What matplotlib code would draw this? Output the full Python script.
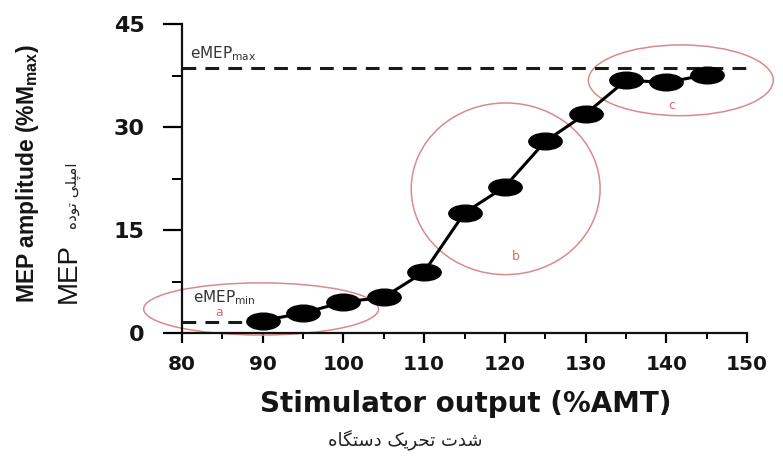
import matplotlib
matplotlib.use("Agg")
import matplotlib.pyplot as plt
from matplotlib.patches import Ellipse
from matplotlib.path import Path
from matplotlib.ticker import MultipleLocator

# data
stim = [90, 95, 100, 105, 110, 115, 120, 125, 130, 135, 140, 145]
mep = [1.8, 2.9, 4.5, 5.2, 8.9, 17.5, 21.3, 27.9, 31.9, 36.8, 36.5, 37.6]
emep_max = 38.6
emep_min = 1.6
x_ticks = [80, 90, 100, 110, 120, 130, 140, 150]
y_ticks = [0, 15, 30, 45]

# the three circled regions
region_names = ["a", "b", "c"]
region_x = [89.8, 120.1, 141.8]
region_y = [3.5, 21.0, 36.8]
region_w = [29.1, 23.4, 22.9]
region_h = [7.6, 25.0, 10.3]

# Persian text, pre-shaped (presentation forms, visual order)
fa_ylabel = "\uFEE9\uFEA9\uFEEE\uFE97 \uFBFD\uFEE0\uFB59\uFEE3\uFE8D"
fa_xlabel = ("\uFEE9\uFE8E\uFB95\uFE98\uFEB3\uFEA9 "
             "\uFB8F\uFBFE\uFEAE\uFEA4\uFE97 \uFE95\uFEAA\uFEB7")

plt.rcParams["mathtext.default"] = "regular"
plt.rcParams["font.family"] = ["DejaVu Sans"]

W, H = 783, 466
fig = plt.figure(figsize=(W / 100, H / 100), dpi=100)
ax = fig.add_axes([182 / W, 1 - 333 / H, (747 - 182) / W, (333 - 24) / H])

# elliptical marker (the reference markers are wider than tall)
circ = Path.unit_circle()
ell_marker = Path(circ.vertices * [1, 0.5], circ.codes)

ax.plot(stim, mep, color="black", lw=2.2, marker=ell_marker, ms=24,
        mfc="black", mec="black", clip_on=False, zorder=4)

ax.plot([80, 150.8], [emep_max, emep_max], color="#1a1a1a", lw=2.2,
        ls=(0, (4.5, 3)), clip_on=False, zorder=3)
ax.plot([80, 88], [emep_min, emep_min], color="#1a1a1a", lw=2.2,
        ls=(0, (4.5, 3)), clip_on=False, zorder=3)

ax.text(81, 40.0, r"eMEP$_{max}$", fontsize=11, color="#333333")
ax.text(81.4, 4.5, r"eMEP$_{min}$", fontsize=11, color="#333333")

label_pos = [(84.6, 3.0), (121.3, 11.1), (140.7, 33.2)]
for name, cx, cy, w, h, (lx, ly) in zip(region_names, region_x, region_y,
                                        region_w, region_h, label_pos):
    ax.add_patch(Ellipse((cx, cy), w, h, fill=False, ec="#d98a8b", lw=1.1,
                         clip_on=False, zorder=2))
    ax.text(lx, ly, name, color="#d9666a", fontsize=9, ha="center",
            va="center")

ax.set_xlim(80, 150)
ax.set_ylim(0, 45)
ax.set_xticks(x_ticks)
ax.set_yticks(y_ticks)
ax.xaxis.set_minor_locator(MultipleLocator(5))
ax.yaxis.set_minor_locator(MultipleLocator(7.5))

for side in ["top", "right"]:
    ax.spines[side].set_visible(False)
for side in ["left", "bottom"]:
    ax.spines[side].set_linewidth(1.6)
    ax.spines[side].set_color("#111111")

ax.tick_params(axis="x", which="major", length=7, width=1.6, pad=9,
               labelsize=14.5, labelcolor="#151515")
ax.tick_params(axis="x", which="minor", length=4.5, width=1.4)
ax.tick_params(axis="y", which="major", length=14, width=1.6, pad=13,
               labelsize=16, labelcolor="#151515")
ax.tick_params(axis="y", which="minor", length=7, width=1.4)
for lab in ax.get_xticklabels() + ax.get_yticklabels():
    lab.set_fontweight("bold")

fig.text(466 / W, 1 - 404 / H, "Stimulator output (%AMT)", ha="center",
         va="center", fontsize=20, fontweight="bold", color="#151515")
fig.text(405 / W, 1 - 440 / H, fa_xlabel, ha="center", va="center",
         fontsize=13, color="#222222")

fig.text(28 / W, 1 - 303 / H, r"MEP amplitude (%M$_{max}$)", rotation=90,
         ha="center", va="bottom", fontsize=16.5, fontweight="bold",
         color="#151515", family=["Liberation Sans"])
fig.text(69 / W, 1 - 303 / H, "MEP", rotation=90, ha="center", va="bottom",
         fontsize=20, color="#151515", family=["Liberation Sans"])
fig.text(73 / W, 1 - 229 / H, fa_ylabel, rotation=90, ha="center",
         va="bottom", fontsize=11, color="#222222")

fig.savefig("out.png", dpi=100)
